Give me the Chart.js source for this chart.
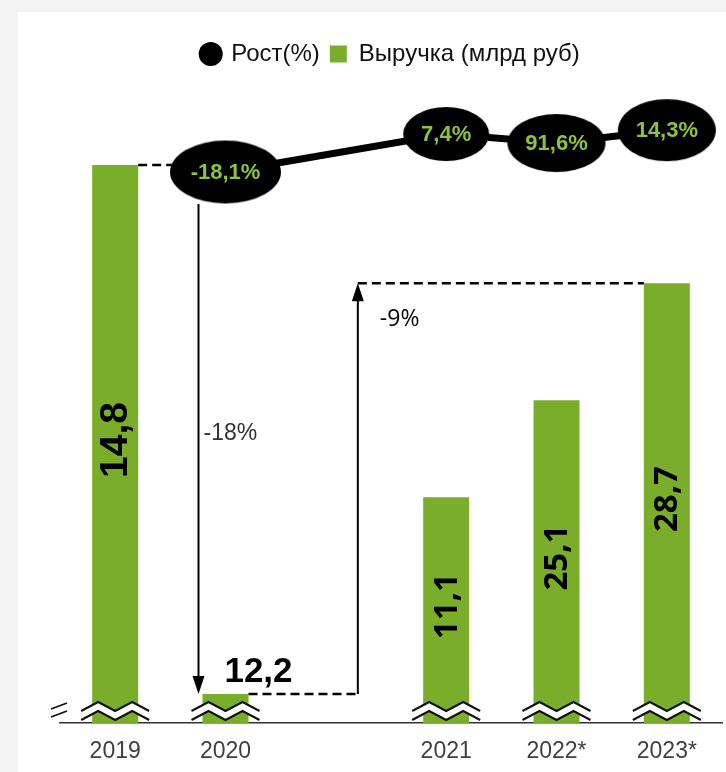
<!DOCTYPE html>
<html>
<head>
<meta charset="utf-8">
<script src="https://cdn.jsdelivr.net/npm/chart.js@4"></script>
<style>
  html, body { margin: 0; padding: 0; background: #f3f3f3; overflow: hidden; }
  #card { position: absolute; left: 18px; top: 12px; width: 708px; height: 760px; background: #fff; }
  #card canvas { display: block; }
</style>
</head>
<body>
<div id="card"><canvas id="chart"></canvas></div>
<script>
// ── Data ──────────────────────────────────────────────────────────────────────
// empty slot between 2020 and 2021 is part of the original layout
const years   = ['2019', '2020', '', '2021', '2022*', '2023*'];
const revenue = [14.8, 12.2, null, 11.1, 25.1, 28.7];      // Выручка, млрд руб
const growth  = [null, -18.1, null, 7.4, 91.6, 14.3];      // Рост, %

// the axis is broken, so bars and the growth line are drawn on an illustrative
// 0–100 scale read off the picture, not on the real values
const barLevel    = [86.8, 4.5, null, 35.1, 50.2, 68.4];
const growthLevel = [null, 85.7, null, 91.6, 90.2, 92.2];

const _green = '#7aad2a';
const _txtGr = '#8cc43c';
const fmt = v => v.toFixed(1).replace('.', ',');

function ellipseImg(w, h) {
  const c = document.createElement('canvas');
  c.width = w; c.height = h;
  const g = c.getContext('2d');
  g.fillStyle = '#000';
  g.beginPath();
  g.ellipse(w / 2, h / 2, w / 2 - 1, h / 2 - 1, 0, 0, Math.PI * 2);
  g.fill();
  return c;
}

function arrow(ctx, x, y0, y1) {
  const dir = y1 > y0 ? 1 : -1;
  ctx.beginPath();
  ctx.moveTo(x, y0);
  ctx.lineTo(x, y1 - dir * 14);
  ctx.stroke();
  ctx.beginPath();
  ctx.moveTo(x, y1);
  ctx.lineTo(x - 6, y1 - dir * 18);
  ctx.lineTo(x + 6, y1 - dir * 18);
  ctx.closePath();
  ctx.fill();
}

function dashed(ctx, x0, y0, x1, y1) {
  ctx.save();
  ctx.setLineDash([9, 5]);
  ctx.lineWidth = 2.5;
  ctx.beginPath();
  ctx.moveTo(x0, y0);
  ctx.lineTo(x1, y1);
  ctx.stroke();
  ctx.restore();
}

function breakMark(ctx, cx, y) {
  const xs = [-34, -17, 0, 17, 34];
  const dy = [5, -4, 5, -4, 5];
  ctx.save();
  ctx.fillStyle = '#fff';
  ctx.beginPath();
  xs.forEach((dx, i) => ctx.lineTo(cx + dx, y - 5 + dy[i]));
  for (let i = xs.length - 1; i >= 0; i--) ctx.lineTo(cx + xs[i], y + 4 + dy[i]);
  ctx.closePath();
  ctx.fill();
  ctx.strokeStyle = '#111';
  ctx.lineWidth = 2;
  [-5, 4].forEach(off => {
    ctx.beginPath();
    xs.forEach((dx, i) => ctx.lineTo(cx + dx, y + off + dy[i]));
    ctx.stroke();
  });
  ctx.restore();
}

// ── Plugins ───────────────────────────────────────────────────────────────────
const legendHeight = {
  id: 'legendHeight',
  beforeInit(chart) {
    const fit = chart.legend.fit;
    chart.legend.fit = function () { fit.call(this); this.height = 48; };
  }
};

const decorations = {
  id: 'decorations',
  afterDatasetsDraw(chart) {
    const ctx = chart.ctx;
    const pts  = chart.getDatasetMeta(0).data;
    const bars = chart.getDatasetMeta(1).data;
    const area = chart.chartArea;
    const xS = chart.scales.x, yS = chart.scales.y;

    // axis breaks
    bars.forEach((b, i) => { if (revenue[i] != null) breakMark(ctx, b.x, area.bottom - 12); });
    ctx.save();
    ctx.strokeStyle = '#111';
    ctx.lineWidth = 1.8;
    [-5, 3].forEach(o => {
      ctx.beginPath();
      ctx.moveTo(area.left - 9, area.bottom - 12 + o + 3);
      ctx.lineTo(area.left + 7, area.bottom - 12 + o - 3);
      ctx.stroke();
    });
    ctx.restore();

    // bar value labels
    ctx.save();
    ctx.fillStyle = '#000';
    ctx.textAlign = 'center';
    ctx.textBaseline = 'middle';
    bars.forEach((b, i) => {
      if (revenue[i] == null) return;
      const txt = fmt(revenue[i]);
      if (i === 1) {
        ctx.font = 'bold 35px "Liberation Sans", Arial';
        ctx.fillText(txt, b.x + 33, b.y - 22);
        return;
      }
      ctx.font = i === 0 ? 'bold 39px "Liberation Sans", Arial' : 'bold 33px "Open Sans"';
      const cy = (b.y + area.bottom - 8) / 2;
      ctx.save();
      ctx.translate(b.x, cy);
      ctx.rotate(-Math.PI / 2);
      ctx.fillText(txt, 0, 1);
      ctx.restore();
    });

    // growth labels inside ellipses
    ctx.font = 'bold 22px "Liberation Sans Narrow", "Liberation Sans"';
    ctx.fillStyle = _txtGr;
    pts.forEach((p, i) => {
      if (growth[i] == null) return;
      ctx.fillText(fmt(growth[i]) + '%', p.x, p.y + 1);
    });
    ctx.restore();

    // change arrows
    ctx.save();
    ctx.strokeStyle = '#000';
    ctx.fillStyle = '#000';
    ctx.lineWidth = 2;
    const b0 = bars[0], b1 = bars[1], b5 = bars[5], p1 = pts[1];
    dashed(ctx, b0.x + b0.width / 2, b0.y, p1.x - 52, b0.y);
    const ax1 = b1.x - b1.width / 2 - 4;
    arrow(ctx, ax1, p1.y + 32, b1.y);
    const ax2 = xS.getPixelForValue(2) + 22;
    dashed(ctx, b1.x + b1.width / 2, b1.y, ax2, b1.y);
    arrow(ctx, ax2, b1.y, b5.y);
    dashed(ctx, ax2, b5.y, b5.x - b5.width / 2, b5.y);

    ctx.textAlign = 'left';
    ctx.textBaseline = 'middle';
    ctx.font = '23px "Liberation Sans", Arial';
    ctx.fillStyle = '#333';
    ctx.fillText('-18%', ax1 + 5, yS.getPixelForValue(45));
    ctx.font = '23px "Open Sans"';
    ctx.fillStyle = '#000';
    ctx.fillText('-9%', ax2 + 22, b5.y + 36);
    ctx.restore();
  }
};

// ── Chart ─────────────────────────────────────────────────────────────────────
new Chart(document.getElementById('chart'), {
  type: 'bar',
  data: {
    labels: years,
    datasets: [{
      type: 'line',
      label: 'Рост(%)',
      data: growthLevel,
      borderColor: '#000',
      backgroundColor: '#000',
      borderWidth: 7,
      tension: 0,
      spanGaps: true,
      pointStyle: ['circle', ellipseImg(113, 65), 'circle', ellipseImg(88, 56), ellipseImg(100, 60), ellipseImg(100, 64)],
      pointRadius: 5,
      order: 0
    }, {
      label: 'Выручка (млрд руб)',
      data: barLevel,
      backgroundColor: _green,
      barPercentage: 0.417,
      categoryPercentage: 1,
      order: 1
    }]
  },
  options: {
    responsive: true,
    maintainAspectRatio: false,
    animation: false,
    layout: { autoPadding: false, padding: { top: 20, left: 42, right: 4, bottom: 0 } },
    plugins: {
      tooltip: { enabled: false },
      legend: {
        position: 'top',
        labels: {
          usePointStyle: true,
          boxWidth: 17,
          boxHeight: 17,
          padding: 10,
          color: '#111',
          font: { family: '"Liberation Sans", Arial', size: 24 },
          generateLabels(chart) {
            const items = Chart.defaults.plugins.legend.labels.generateLabels(chart);
            items[0].pointStyle = 'circle';
            items[0].lineWidth = 0;
            items[0].fillStyle = '#000';
            items[1].pointStyle = 'rect';
            items[1].lineWidth = 0;
            return items;
          }
        }
      }
    },
    scales: {
      x: {
        grid: { display: false },
        border: { display: true, color: '#333', width: 1.5 },
        ticks: { color: '#404040', padding: 7, font: { family: '"Liberation Sans", Arial', size: 23 } },
        afterFit(scale) { scale.height = 49; }
      },
      y: { display: false, min: 0, max: 100 }
    }
  },
  plugins: [legendHeight, decorations]
});
</script>
</body>
</html>
